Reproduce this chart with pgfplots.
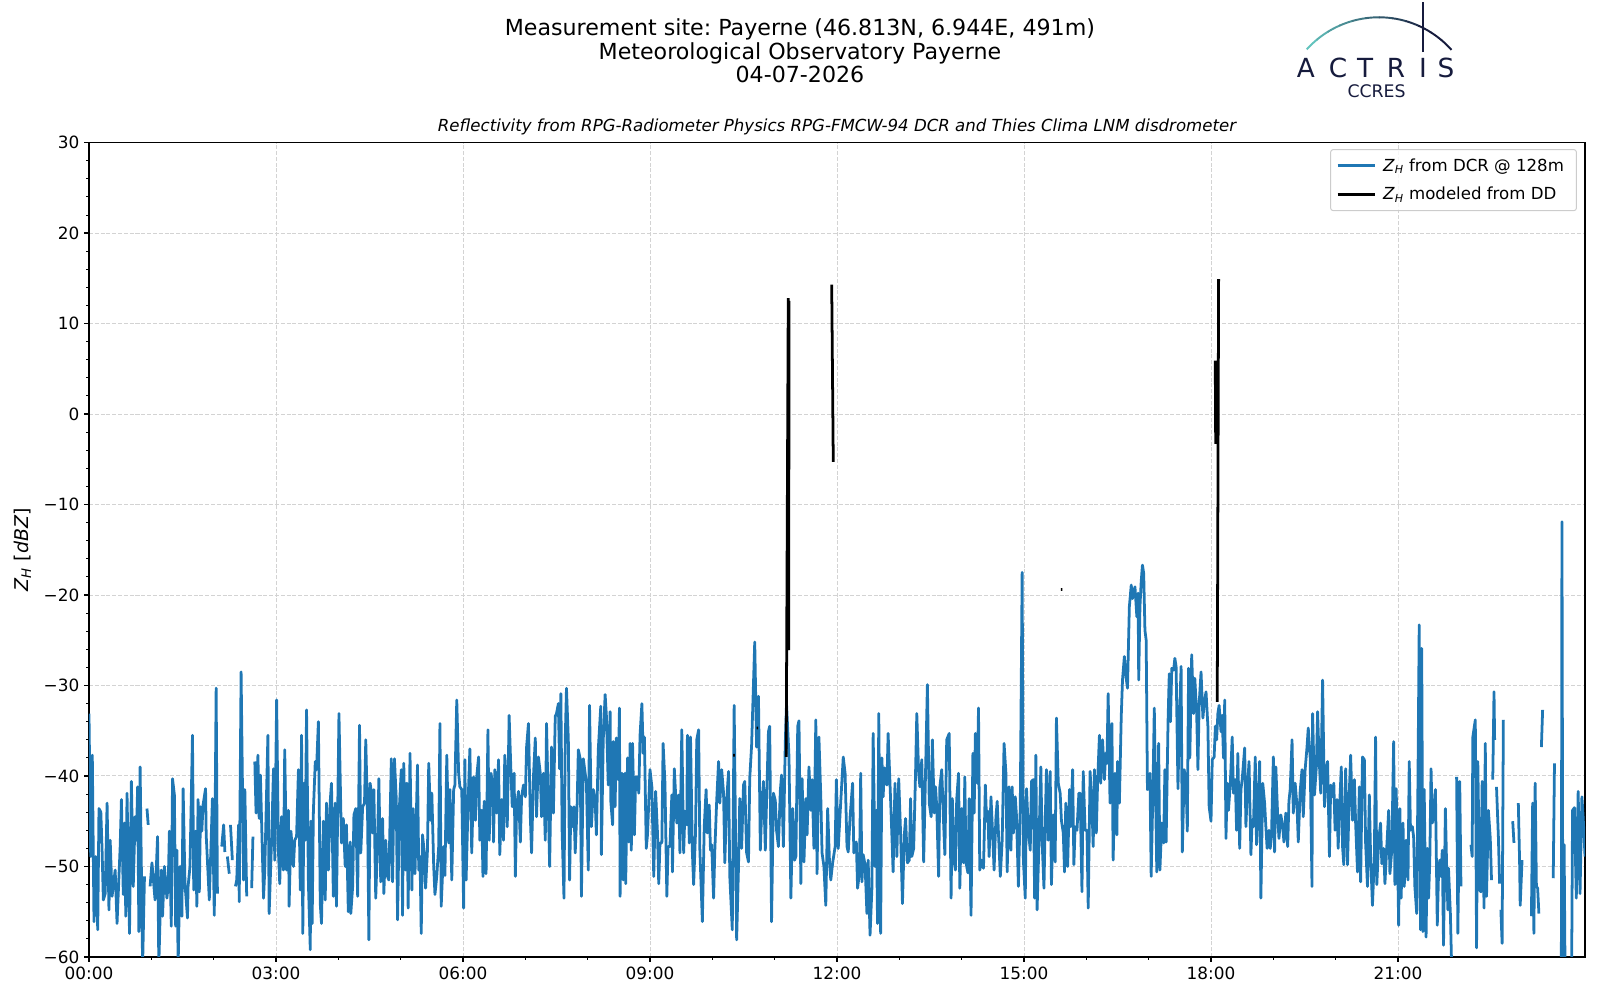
\documentclass[border=0pt]{standalone}
\usepackage{fontspec}
\setmainfont{DejaVu Sans}
\usepackage{pgfplots}
\pgfplotsset{compat=1.18}
\usepackage{pgfplotstable}
\definecolor{mplblue}{HTML}{1F77B4}
\definecolor{navy}{HTML}{161B3D}
\definecolor{teal1}{HTML}{62C3BD}
\definecolor{gridc}{HTML}{D3D3D3}
\definecolor{legc}{HTML}{CCCCCC}
\newcommand{\tf}{\fontsize{12.2}{14.5}\selectfont}
\newcommand{\lf}{\fontsize{12}{14.4}\selectfont}
\frenchspacing
\begin{document}
\pgfplotstableread{
h v
0.00 -33.1
0.027 -48.9
0.053 -37.7
0.08 -56.1
0.11 -48.9
0.14 -57.0
0.16 -43.6
0.19 -44.0
0.21 -48.2
0.23 -53.7
0.26 -53.0
0.29 -43.0
0.32 -54.8
0.34 -47.1
0.37 -53.3
0.42 -50.4
0.45 -56.3
0.50 -47.8
0.52 -42.6
0.55 -53.1
0.57 -45.2
0.59 -55.5
0.61 -41.9
0.65 -57.4
0.68 -40.6
0.71 -52.2
0.74 -44.5
0.76 -47.1
0.78 -41.2
0.80 -57.2
0.82 -39.0
0.86 -61
0.89 -51.1
nan nan
0.93 -43.6
0.95 -45.4
nan nan
0.98 -52.2
1.01 -49.6
1.06 -53.7
1.10 -46.7
1.12 -61
1.16 -50.4
1.18 -55.5
1.21 -50.0
1.25 -53.5
1.27 -52.2
1.29 -46.1
1.32 -56.6
1.34 -40.3
1.37 -42.1
1.39 -56.6
1.41 -48.2
1.43 -61
1.46 -50.0
1.49 -55.5
1.51 -41.4
1.54 -51.9
1.58 -55.7
1.59 -52.2
1.62 -50.0
1.66 -35.5
1.68 -52.6
1.71 -46.1
1.73 -54.4
1.75 -42.6
1.77 -52.8
1.79 -43.4
1.81 -46.1
1.83 -43.2
1.87 -41.4
1.88 -46.5
1.93 -53.7
1.95 -49.3
1.98 -42.5
2.01 -55.4
2.04 -30.3
2.06 -53.0
nan nan
2.13 -47.8
2.16 -45.4
2.18 -48.4
nan nan
2.22 -48.9
2.25 -50.8
nan nan
2.27 -45.4
2.30 -49.3
nan nan
2.35 -52.2
2.37 -51.5
2.40 -45.4
2.41 -53.9
2.44 -28.5
2.48 -51.5
2.50 -41.5
2.53 -53.3
nan nan
2.61 -52.4
2.63 -46.7
nan nan
2.66 -38.4
2.68 -44.1
2.71 -37.7
2.73 -44.7
2.75 -39.9
2.80 -53.5
2.82 -50.4
2.87 -35.5
2.89 -55.2
2.93 -46.9
2.96 -39.2
2.98 -49.3
3.01 -31.6
3.04 -48.5
3.06 -51.9
3.09 -44.5
3.12 -50.4
3.14 -37.1
3.17 -50.4
3.20 -43.8
3.21 -54.4
3.24 -46.1
3.28 -50.0
3.30 -47.1
3.33 -46.7
3.36 -39.3
3.39 -52.6
3.41 -35.5
3.43 -57.4
3.45 -40.8
3.47 -47.1
3.49 -32.7
3.52 -51.9
3.55 -59.2
3.56 -45.0
3.58 -56.3
3.60 -43.8
3.63 -38.4
3.65 -39.3
3.68 -34.0
3.71 -54.1
3.73 -56.3
3.76 -45.0
3.79 -53.7
3.81 -43.0
3.84 -50.4
3.87 -42.8
3.89 -40.8
3.92 -53.3
3.95 -43.0
3.97 -54.4
4.01 -33.1
4.05 -47.4
4.08 -44.7
4.11 -50.0
4.13 -45.4
4.16 -55.0
4.19 -47.3
4.20 -55.2
4.23 -52.2
4.25 -44.3
4.28 -43.6
4.31 -53.3
4.34 -34.4
4.36 -48.5
4.39 -43.4
4.42 -43.0
4.44 -36.0
4.47 -44.9
4.49 -58.1
4.51 -40.8
4.54 -42.3
4.55 -46.3
4.57 -41.5
4.60 -53.5
4.63 -47.1
4.65 -40.3
4.68 -51.7
4.71 -44.7
4.73 -53.0
4.76 -47.1
4.79 -51.1
4.81 -51.5
4.85 -38.1
4.87 -51.7
4.90 -38.1
4.93 -42.6
4.95 -55.9
4.98 -43.4
5.01 -39.3
5.03 -55.4
5.05 -38.6
5.08 -50.4
5.10 -40.8
5.12 -54.6
5.15 -37.5
5.18 -52.6
5.20 -43.6
5.23 -50.8
5.27 -38.8
5.29 -50.4
5.31 -48.9
5.33 -57.4
5.35 -46.5
5.38 -48.5
5.40 -52.4
5.43 -48.2
5.45 -38.6
5.48 -44.9
5.50 -41.9
5.53 -50.0
5.55 -53.1
5.58 -51.0
5.61 -47.8
5.63 -34.2
5.65 -54.4
5.69 -47.8
5.71 -51.0
5.74 -37.7
5.77 -47.4
5.79 -41.5
5.82 -51.5
5.85 -41.5
5.87 -41.0
5.90 -31.6
5.93 -39.7
5.95 -41.2
5.98 -41.5
6.01 -54.6
6.03 -38.2
6.05 -51.5
6.08 -43.4
6.11 -37.0
6.14 -48.5
6.17 -40.1
6.20 -44.9
6.22 -40.1
6.25 -37.9
6.27 -47.1
6.30 -43.8
6.32 -51.1
6.34 -42.8
6.37 -50.8
6.40 -34.9
6.42 -47.1
6.45 -39.7
6.48 -41.4
6.49 -47.3
6.51 -39.3
6.54 -44.1
6.57 -38.2
6.59 -48.7
6.62 -42.6
6.65 -47.1
6.67 -37.7
6.71 -45.6
6.74 -33.3
6.77 -39.7
6.79 -43.4
6.82 -39.7
6.84 -51.1
6.86 -43.4
6.89 -41.7
6.92 -47.3
6.94 -42.3
6.97 -41.0
7.00 -42.3
7.02 -36.8
7.05 -34.2
7.08 -44.5
7.10 -48.5
7.13 -40.1
7.16 -35.8
7.18 -44.5
7.21 -37.9
7.24 -39.7
7.26 -44.5
7.29 -39.7
7.32 -47.1
7.34 -34.2
7.37 -43.8
7.39 -50.0
7.42 -36.8
7.45 -44.1
7.48 -33.4
7.50 -33.1
7.53 -32.0
7.55 -39.2
7.57 -30.9
7.59 -46.1
7.62 -53.5
7.64 -36.0
7.66 -30.3
7.69 -36.0
7.71 -51.5
7.73 -43.4
7.76 -45.6
7.78 -43.4
7.80 -48.5
7.83 -43.4
7.85 -37.1
7.88 -38.1
7.90 -53.3
7.93 -38.1
7.96 -39.7
7.98 -40.8
8.01 -50.4
8.03 -32.2
8.06 -45.6
8.09 -41.5
8.12 -42.7
8.14 -46.5
8.17 -37.1
8.21 -32.3
8.22 -48.7
8.25 -36.0
8.28 -31.0
8.30 -33.3
8.33 -41.0
8.36 -32.9
8.37 -42.7
8.40 -45.4
8.41 -36.2
8.44 -43.4
8.46 -35.8
8.49 -40.4
8.51 -32.5
8.52 -53.3
8.55 -39.7
8.57 -51.5
8.60 -39.7
8.61 -51.9
8.64 -38.0
8.66 -47.3
8.68 -36.4
8.70 -48.2
8.72 -36.4
8.75 -46.5
8.77 -40.1
8.80 -40.1
8.82 -41.9
8.84 -35.5
8.87 -32.0
8.89 -37.5
8.91 -35.7
8.94 -48.0
8.96 -46.5
9.00 -39.3
9.03 -41.2
9.06 -51.1
9.09 -41.7
9.12 -46.3
9.14 -51.9
9.16 -47.4
9.19 -47.4
9.21 -36.4
9.24 -40.8
9.27 -53.3
9.29 -47.8
9.32 -47.8
9.35 -42.1
9.36 -50.6
9.39 -39.2
9.41 -41.9
9.43 -45.2
9.46 -42.1
9.48 -48.5
9.51 -34.9
9.54 -48.5
9.56 -43.9
9.59 -45.4
9.60 -35.5
9.63 -47.4
9.65 -35.7
9.68 -48.5
9.70 -52.0
9.73 -46.3
9.75 -36.0
9.78 -34.9
9.80 -48.2
9.84 -56.1
9.87 -45.6
9.90 -41.5
9.92 -46.3
9.95 -43.2
9.97 -48.2
9.99 -47.6
10.02 -53.5
10.04 -48.2
10.07 -42.7
10.10 -38.4
10.12 -43.0
10.15 -39.3
10.18 -41.9
10.20 -49.6
10.23 -42.7
10.26 -39.5
10.28 -51.1
10.32 -57.0
10.35 -32.2
10.39 -58.1
10.42 -50.0
10.44 -42.5
10.47 -48.0
10.50 -41.0
10.52 -40.6
10.55 -48.5
10.58 -49.5
10.60 -40.3
10.63 -36.6
10.66 -29.8
10.68 -25.2
10.71 -36.8
10.74 -31.2
10.77 -48.2
10.79 -44.1
10.82 -40.6
10.85 -48.2
10.87 -42.7
10.90 -35.1
10.92 -34.5
10.95 -56.1
10.98 -41.9
11.01 -42.7
11.03 -46.0
11.06 -47.8
11.09 -41.7
11.11 -39.9
11.14 -47.8
11.17 -36.4
11.19 -32.0
11.23 -37.9
11.26 -53.5
11.29 -43.6
11.32 -49.3
11.34 -48.9
11.37 -34.5
11.39 -33.9
11.42 -51.9
11.44 -40.3
11.47 -49.5
11.50 -42.5
11.52 -46.5
11.55 -39.0
11.58 -43.8
11.60 -40.4
11.63 -48.0
11.66 -33.8
11.68 -50.8
11.71 -35.7
11.74 -42.3
11.76 -48.5
11.79 -50.0
11.82 -54.3
11.85 -43.6
11.88 -49.6
11.90 -51.5
11.93 -49.6
11.97 -47.8
11.99 -40.4
12.02 -48.0
12.05 -44.1
12.08 -40.4
12.10 -37.9
12.13 -39.7
12.16 -47.8
12.18 -48.4
12.21 -44.5
12.25 -40.8
12.27 -48.5
12.31 -47.3
12.33 -52.4
12.36 -50.7
12.38 -39.7
12.40 -51.7
12.42 -48.7
12.45 -49.8
12.48 -55.2
12.50 -49.3
12.53 -57.6
12.56 -52.4
12.58 -35.3
12.61 -50.0
12.63 -43.8
12.65 -56.3
12.67 -33.1
12.70 -57.4
12.72 -38.0
12.74 -42.3
12.76 -39.1
12.80 -41.0
12.82 -35.3
12.85 -40.8
12.88 -46.5
12.90 -50.6
12.93 -40.8
12.96 -48.9
12.99 -40.3
13.02 -46.3
13.05 -54.1
13.08 -46.5
13.10 -44.7
13.13 -49.6
13.16 -49.3
13.18 -42.5
13.20 -48.9
13.23 -48.0
13.26 -39.7
13.28 -33.1
13.31 -39.7
13.33 -41.2
13.36 -38.2
13.39 -49.5
13.41 -43.0
13.45 -29.9
13.48 -43.0
13.51 -44.5
13.53 -36.0
13.56 -44.1
13.58 -41.2
13.60 -43.4
13.63 -51.1
13.65 -41.2
13.68 -39.3
13.71 -45.2
13.73 -48.7
13.76 -36.0
13.80 -35.3
13.83 -53.5
13.85 -42.5
13.88 -49.5
13.90 -50.4
13.92 -42.6
13.95 -39.7
13.97 -52.4
14.00 -43.6
14.03 -49.6
14.05 -40.1
14.07 -49.6
14.10 -50.7
14.12 -42.5
14.15 -55.4
14.18 -37.5
14.20 -44.1
14.22 -35.3
14.25 -40.8
14.27 -32.5
14.29 -50.4
14.32 -49.3
14.35 -50.2
14.38 -41.0
14.40 -45.0
14.42 -43.9
14.44 -48.9
14.47 -42.3
14.50 -46.9
14.52 -50.4
14.55 -44.5
14.57 -42.8
14.59 -46.3
14.62 -51.1
14.65 -47.1
14.68 -36.4
14.71 -39.7
14.73 -50.6
14.76 -41.2
14.79 -48.2
14.81 -41.2
14.83 -46.3
14.86 -42.3
14.88 -44.5
14.91 -52.2
14.94 -43.4
14.97 -17.5
14.99 -49.3
15.02 -53.5
15.04 -41.4
15.07 -46.0
15.10 -48.2
15.12 -40.6
15.15 -40.4
15.17 -53.5
15.19 -37.7
15.21 -54.8
15.24 -47.3
15.27 -39.0
15.29 -47.1
15.32 -52.4
15.34 -45.2
15.36 -39.3
15.39 -47.1
15.42 -39.5
15.44 -52.0
15.47 -44.3
15.50 -49.5
15.52 -33.6
15.55 -40.8
15.58 -41.9
15.60 -44.9
15.63 -46.3
15.65 -50.6
15.67 -43.0
15.70 -50.0
15.73 -41.5
15.75 -45.6
15.78 -39.3
15.80 -49.8
15.82 -45.6
15.85 -46.0
15.88 -41.9
15.90 -41.9
15.93 -52.8
15.95 -39.5
15.98 -46.0
16.01 -46.0
16.03 -54.6
16.06 -39.5
16.09 -43.4
16.11 -47.8
16.13 -39.3
16.16 -46.3
16.18 -40.8
16.21 -35.5
16.23 -40.8
16.26 -36.0
16.29 -40.4
16.31 -37.5
16.33 -38.6
16.35 -30.9
16.38 -43.0
16.41 -34.2
16.43 -49.3
16.46 -39.7
16.49 -46.5
16.50 -38.4
16.53 -43.0
16.56 -33.4
16.58 -29.4
16.61 -26.8
16.63 -28.7
16.66 -30.3
16.69 -21.3
16.72 -18.9
16.74 -20.4
16.77 -19.4
16.78 -19.1
16.81 -22.4
16.83 -19.8
16.84 -29.4
16.86 -21.3
16.88 -18.5
16.90 -16.7
16.92 -17.6
16.94 -23.9
16.96 -25.0
16.98 -41.5
17.00 -41.4
17.02 -39.7
17.04 -51.1
17.07 -41.0
17.09 -32.5
17.11 -41.5
17.13 -50.6
17.16 -36.4
17.18 -50.4
17.21 -45.2
17.24 -47.4
17.26 -39.3
17.28 -47.3
17.31 -34.2
17.33 -28.7
17.35 -34.0
17.37 -28.1
17.40 -28.3
17.42 -27.0
17.44 -27.9
17.47 -41.4
17.49 -34.5
17.52 -27.9
17.54 -48.4
17.57 -39.3
17.60 -40.8
17.62 -46.1
17.64 -28.1
17.66 -38.0
17.69 -26.6
17.72 -33.1
17.74 -29.2
17.77 -33.1
17.79 -39.3
17.81 -32.0
17.84 -28.5
17.87 -33.6
17.89 -32.0
17.92 -30.7
17.95 -34.5
17.97 -43.4
18.00 -45.0
18.02 -38.2
18.05 -37.9
18.07 -34.5
18.09 -36.0
18.11 -33.1
18.13 -32.2
18.16 -35.1
18.18 -33.3
18.20 -38.0
18.22 -31.6
18.24 -46.9
18.26 -40.8
18.28 -43.8
18.31 -40.8
18.34 -35.7
18.36 -41.9
18.39 -40.4
18.41 -46.0
18.43 -37.5
18.46 -48.0
18.48 -41.5
18.50 -40.4
18.54 -36.9
18.56 -45.6
18.58 -41.9
18.61 -38.4
18.64 -48.7
18.66 -44.9
18.68 -45.6
18.71 -37.9
18.73 -47.6
18.75 -44.3
18.78 -38.4
18.80 -53.5
18.83 -40.8
18.86 -43.0
18.88 -45.6
18.90 -48.0
18.93 -46.0
18.95 -48.0
18.97 -46.7
19.00 -37.9
19.02 -48.4
19.04 -39.0
19.07 -44.5
19.09 -46.9
19.12 -44.3
19.15 -45.6
19.17 -47.3
19.20 -44.1
19.23 -47.8
19.25 -42.8
19.27 -41.5
19.30 -36.0
19.32 -44.1
19.35 -40.8
19.38 -43.4
19.40 -47.3
19.43 -41.7
19.46 -39.3
19.48 -44.5
19.51 -39.3
19.54 -36.8
19.56 -34.7
19.59 -37.9
19.62 -52.2
19.63 -33.1
19.66 -42.1
19.69 -39.0
19.71 -32.9
19.73 -37.3
19.76 -41.9
19.79 -29.4
19.82 -43.4
19.85 -39.0
19.87 -38.4
19.90 -48.9
19.92 -41.0
19.95 -42.3
19.97 -40.8
19.99 -46.0
20.02 -42.6
20.04 -48.0
20.06 -43.8
20.09 -39.0
20.11 -47.8
20.13 -49.8
20.16 -39.2
20.19 -49.8
20.22 -41.5
20.24 -37.7
20.27 -44.9
20.30 -40.4
20.32 -45.2
20.35 -50.6
20.38 -41.2
20.40 -51.7
20.43 -37.9
20.46 -38.2
20.48 -47.4
20.51 -52.2
20.54 -42.1
20.56 -48.9
20.59 -54.3
20.62 -49.1
20.64 -35.7
20.66 -52.0
20.69 -47.1
20.72 -45.2
20.74 -49.7
20.77 -48.0
20.79 -51.9
20.82 -47.8
20.85 -43.8
20.87 -50.8
20.90 -48.2
20.93 -36.2
20.95 -52.0
20.97 -41.4
20.99 -47.1
21.01 -56.5
21.03 -43.6
21.05 -53.5
21.08 -45.2
21.10 -52.2
21.13 -47.1
21.16 -51.5
21.18 -38.4
21.20 -46.0
21.23 -45.6
21.25 -46.7
21.27 -52.2
21.30 -55.2
21.32 -40.4
21.34 -23.3
21.36 -57.0
21.38 -25.9
21.40 -57.2
21.42 -41.5
21.45 -57.8
21.47 -48.0
21.49 -53.5
21.51 -49.3
21.53 -39.2
21.55 -45.2
21.58 -43.8
21.60 -41.5
21.63 -56.5
21.65 -50.8
21.67 -49.3
21.69 -51.1
21.71 -48.2
21.73 -58.7
21.76 -43.6
21.78 -50.0
21.80 -54.8
21.81 -50.2
21.84 -55.2
21.86 -61
nan nan
21.94 -40.1
21.96 -57.4
21.99 -40.6
22.01 -52.2
nan nan
22.17 -47.6
22.19 -48.9
22.20 -35.7
22.24 -33.8
22.26 -59.0
22.28 -38.4
22.31 -52.6
22.33 -52.8
22.35 -40.6
22.38 -54.6
22.40 -36.4
22.42 -53.3
22.45 -43.8
22.48 -46.9
22.50 -51.5
nan nan
22.52 -40.4
22.54 -30.7
22.55 -36.0
nan nan
22.58 -41.2
22.61 -46.7
22.63 -51.9
nan nan
22.65 -54.8
22.67 -58.5
22.69 -33.8
nan nan
22.84 -45.0
22.86 -47.4
nan nan
22.93 -43.0
22.95 -49.3
22.96 -54.3
22.99 -49.3
nan nan
23.14 -55.5
23.16 -43.0
23.18 -57.4
23.20 -40.8
23.22 -52.2
23.24 -52.4
23.26 -55.2
nan nan
23.30 -36.8
23.32 -32.7
nan nan
23.49 -51.3
23.51 -38.6
nan nan
23.62 -62
23.63 -11.9
23.645 -62
23.665 -47.6
23.68 -62
nan nan
23.785 -62
23.80 -43.8
23.83 -43.5
23.86 -53.5
23.89 -41.7
23.92 -53.0
23.95 -42.3
23.97 -44.5
24.00 -48.9
}\dcr
\pgfplotstableread{
h v
10.335 -37.7
10.36 -37.7
nan nan
10.71 -34.7
10.735 -34.7
nan nan
11.185 -37.9
11.218 12.8
11.224 -26.1
11.231 12.5
nan nan
11.915 14.3
11.94 -5.3
nan nan
15.59 -19.4
15.615 -19.4
nan nan
18.068 5.9
18.075 -3.3
nan nan
18.100 -31.8
18.122 14.9
}\dd
\begin{tikzpicture}
\path[use as bounding box] (-64.32pt,-31.08pt) rectangle (1092.0pt,691.6pt);
\begin{axis}[
  name=ax, at={(0pt,0pt)}, anchor=south west,
  scale only axis, width=1081.2pt, height=588.6pt,
  xmin=0, xmax=24, ymin=-60, ymax=30,
  xtick={0,3,...,21},
  xticklabels={00:00,03:00,06:00,09:00,12:00,15:00,18:00,21:00},
  minor x tick num=2,
  ytick={-60,-50,...,30},
  yticklabels={−60,−50,−40,−30,−20,−10,0,10,20,30},
  minor y tick num=4,
  tick align=outside, tick pos=left,
  major tick length=3.5pt, minor tick length=2pt,
  major tick style={black, line width=0.8pt},
  minor tick style={black, line width=0.6pt},
  axis line style={line width=0.8pt},
  grid=major,
  major grid style={gridc, line width=0.7pt, dash pattern=on 2.9pt off 1.3pt},
  ticklabel style={font=\tf},
  /pgf/number format/assume math mode=true,
  unbounded coords=jump,
  legend cell align=left,
  legend style={at={(0.9946,0.992)}, anchor=north east, draw=legc, line width=0.7pt,
    rounded corners=2pt, fill=white, fill opacity=0.8, text opacity=1, draw opacity=1,
    font=\lf, row sep=6pt, inner xsep=4pt, inner ysep=4.5pt,
    nodes={inner xsep=5pt}},
  legend image code/.code={\draw[#1] (0pt,0pt) -- (27pt,0pt);},
]
\addplot[mplblue, line width=2pt, line join=round] table[x=h,y=v]{\dcr};
\addlegendentry{\textit{Z}\textsubscript{\textit{H}} from DCR @ 128m}
\addplot[black, line width=2pt] table[x=h,y=v]{\dd};
\addlegendentry{\textit{Z}\textsubscript{\textit{H}} modeled from DD}
\end{axis}
% titles
\node[anchor=base, font=\fontsize{16}{18}\selectfont] at (513.8pt,665.8pt) {Measurement site: Payerne (46.813N, 6.944E, 491m)};
\node[anchor=base, font=\fontsize{16}{18}\selectfont] at (513.8pt,648.9pt) {Meteorological Observatory Payerne};
\node[anchor=base, font=\fontsize{16}{18}\selectfont] at (513.8pt,631.9pt) {04-07-2026};
\node[anchor=base, font=\lf\itshape] at (540.6pt,596.3pt) {Reflectivity from RPG-Radiometer Physics RPG-FMCW-94 DCR and Thies Clima LNM disdrometer};
% y label
\node[rotate=90, anchor=center, font=\fontsize{13.7}{16}\selectfont] at (-48.1pt,294.3pt) {\textit{Z}\textsubscript{\textit{H}} [\textit{dBZ}]};
% logo
\foreach \i in {0,...,11} {
  \pgfmathsetmacro\a{138-\i*8}
  \pgfmathsetmacro\b{\a-8.4}
  \pgfmathtruncatemacro\m{max(0,100-\i*11)}
  \draw[line width=1.4pt, color=teal1!\m!navy] ([shift={(\a:70.2pt)}]932.2pt,608.9pt) arc[start angle=\a, end angle=\b, radius=70.2pt];
}
\draw[navy, line width=1.4pt] (964.1pt,654.0pt) -- (964.1pt,690.2pt);
\foreach \x/\l in {879.5/A,902.6/C,922.2/T,944.6/R,964.1/I,980.7/S} {
  \node[anchor=base, inner sep=0pt, text=navy, font=\fontsize{19}{21}\selectfont] at (\x pt,635.3pt) {\l};
}
\node[anchor=base, inner sep=0pt, text=navy, font=\fontsize{12.5}{14}\selectfont] at (930.5pt,620.8pt) {CCRES};
\end{tikzpicture}
\end{document}
